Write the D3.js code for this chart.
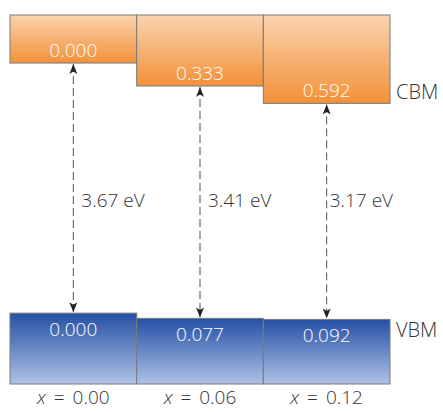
<!DOCTYPE html>
<html>
<head>
<meta charset="utf-8">
<script src="https://cdn.jsdelivr.net/npm/d3@7"></script>
<style>
  body { margin: 0; background: #fff; }
  svg { display: block; font-family: "Open Sans", sans-serif; font-weight: 300; }
</style>
</head>
<body>
<div id="container"></div>
<script>
// composition labels
const compositions = ["x = 0.00", "x = 0.06", "x = 0.12"];
const xValues = ["0.00", "0.06", "0.12"];
// band offsets (eV) relative to x = 0.00
const cbmShift = [0.000, 0.333, 0.592];
const vbmShift = [0.000, 0.077, 0.092];
const gaps = [3.67, 3.41, 3.17];

const width = 443, height = 412;

// energy levels (eV), VBM of x = 0.00 at zero
const vbm = vbmShift.map(d => -d);
const cbm = cbmShift.map((d, i) => vbm[i] + gaps[i]);
const cbmTop = 4.375, vbmBottom = -1.04;

const x = d3.scaleBand().domain(xValues).range([10, 390]).padding(0);
const y = d3.scaleLinear().domain([vbmBottom, cbmTop]).range([384, 15]);

const svg = d3.create("svg")
    .attr("width", width)
    .attr("height", height)
    .attr("viewBox", [0, 0, width, height]);

const defs = svg.append("defs");
const og = defs.append("linearGradient").attr("id", "orange").attr("x1", 0).attr("y1", 0).attr("x2", 0).attr("y2", 1);
og.append("stop").attr("offset", "0%").attr("stop-color", "#f9d3ae");
og.append("stop").attr("offset", "100%").attr("stop-color", "#f39138");
const bg = defs.append("linearGradient").attr("id", "blue").attr("x1", 0).attr("y1", 0).attr("x2", 0).attr("y2", 1);
bg.append("stop").attr("offset", "0%").attr("stop-color", "#2550a5");
bg.append("stop").attr("offset", "100%").attr("stop-color", "#aec2e6");

defs.append("marker")
    .attr("id", "arrow").attr("viewBox", "0 0 10 10")
    .attr("refX", 10).attr("refY", 5)
    .attr("markerWidth", 10).attr("markerHeight", 10)
    .attr("markerUnits", "userSpaceOnUse")
    .attr("orient", "auto-start-reverse")
  .append("path").attr("d", "M0,1 L10,5 L0,9 L2.5,5 Z").attr("fill", "#222");

// CBM boxes
svg.append("g").selectAll("rect")
  .data(cbm)
  .join("rect")
    .attr("x", (d, i) => x(xValues[i]))
    .attr("y", y(cbmTop))
    .attr("width", x.bandwidth())
    .attr("height", d => y(d) - y(cbmTop))
    .attr("fill", "url(#orange)")
    .attr("stroke", "#7a7a7a")
    .attr("stroke-width", 1);

// VBM boxes
svg.append("g").selectAll("rect")
  .data(vbm)
  .join("rect")
    .attr("x", (d, i) => x(xValues[i]))
    .attr("y", d => y(d))
    .attr("width", x.bandwidth())
    .attr("height", d => y(vbmBottom) - y(d))
    .attr("fill", "url(#blue)")
    .attr("stroke", "#7a7a7a")
    .attr("stroke-width", 1);

// values inside boxes
svg.append("g").selectAll("text")
  .data(cbmShift)
  .join("text")
    .attr("x", (d, i) => x(xValues[i]) + x.bandwidth() / 2)
    .attr("y", (d, i) => y(cbm[i]) - 6)
    .attr("text-anchor", "middle")
    .attr("fill", "#fff")
    .attr("font-size", 19)
    .text(d => d.toFixed(3));

svg.append("g").selectAll("text")
  .data(vbmShift)
  .join("text")
    .attr("x", (d, i) => x(xValues[i]) + x.bandwidth() / 2)
    .attr("y", (d, i) => y(vbm[i]) + 23)
    .attr("text-anchor", "middle")
    .attr("fill", "#fff")
    .attr("font-size", 19)
    .text(d => d.toFixed(3));

// gap arrows
const arrows = svg.append("g");
gaps.forEach((g, i) => {
  const cx = x(xValues[i]) + x.bandwidth() / 2;
  arrows.append("line")
    .attr("x1", cx).attr("x2", cx)
    .attr("y1", y(cbm[i]) + 1).attr("y2", y(vbm[i]) - 1)
    .attr("stroke", "#555")
    .attr("stroke-width", 1)
    .attr("stroke-dasharray", "8,4")
    .attr("marker-start", "url(#arrow)")
    .attr("marker-end", "url(#arrow)");
  arrows.append("text")
    .attr("x", cx + (i === 2 ? 3 : 8))
    .attr("y", 207)
    .attr("fill", "#333")
    .attr("font-size", 19)
    .text(g.toFixed(2) + " eV");
});

// band labels
svg.append("text")
    .attr("x", 396).attr("y", y(cbm[2]) - 4)
    .attr("fill", "#333").attr("font-size", 20)
    .text("CBM");
svg.append("text")
    .attr("x", 396).attr("y", y(vbm[2]) + 18)
    .attr("fill", "#333").attr("font-size", 20)
    .text("VBM");

// composition labels
svg.append("g").selectAll("text")
  .data(compositions)
  .join("text")
    .attr("x", (d, i) => x(xValues[i]) + x.bandwidth() / 2)
    .attr("y", 404)
    .attr("text-anchor", "middle")
    .attr("fill", "#333")
    .attr("font-size", 19)
    .attr("word-spacing", 3)
    .html(d => `<tspan font-style="italic">x</tspan> = ${d.split("= ")[1]}`);

document.getElementById("container").append(svg.node());
</script>
</body>
</html>
